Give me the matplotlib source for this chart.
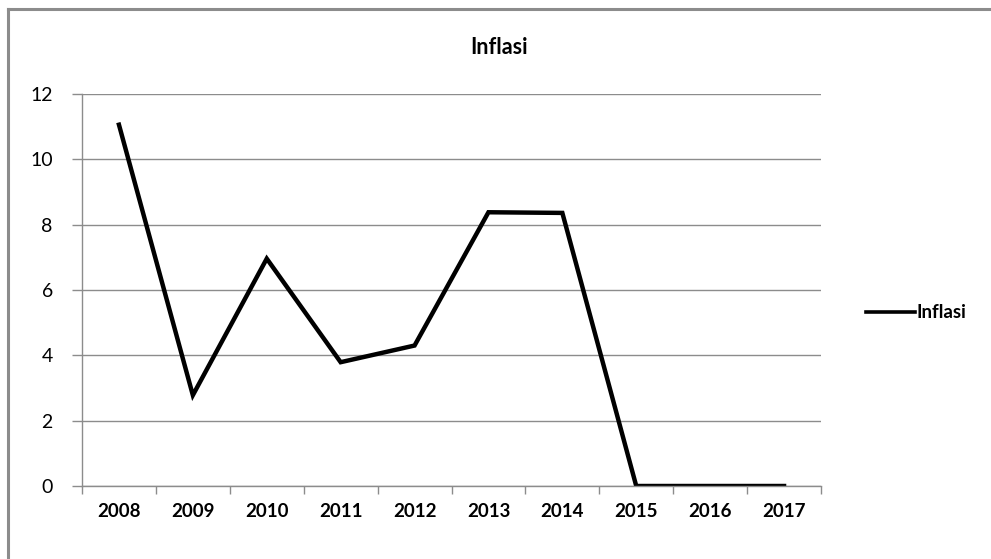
import matplotlib.pyplot as plt
from matplotlib.lines import Line2D

tahun = ["2008", "2009", "2010", "2011", "2012", "2013", "2014", "2015", "2016", "2017"]
inflasi = [11.06, 2.78, 6.96, 3.79, 4.30, 8.38, 8.36, 0, 0, 0]

plt.rcParams['font.family'] = ['Lato', 'DejaVu Sans']

W, H = 991, 559
fig = plt.figure(figsize=(W / 100, H / 100), dpi=100)

# gray frame around the chart area (top and left edges only show)
fy = 1 - 9 / H
fx = 8 / W
fig.add_artist(Line2D([fx, 1.05], [fy, fy], transform=fig.transFigure, color="#8c8c8c", linewidth=2.2))
fig.add_artist(Line2D([fx, fx], [-0.05, fy], transform=fig.transFigure, color="#8c8c8c", linewidth=2.2))

ax = fig.add_axes([82 / W, 1 - 486 / H, (821 - 82) / W, (486 - 94) / H])
x = list(range(len(tahun)))
ax.plot(x, inflasi, color="black", linewidth=3.2, label="Inflasi", solid_joinstyle="miter")

ax.set_xlim(-0.5, len(tahun) - 0.5)
ax.set_ylim(0, 12)
ax.set_yticks(range(0, 13, 2))
ax.set_xticks(x)
ax.set_xticklabels(tahun, fontsize=13.5, fontweight="bold")
ax.set_xticks([i - 0.5 for i in range(len(tahun) + 1)], minor=True)
ax.tick_params(axis="x", which="major", length=0, pad=12)
ax.tick_params(axis="x", which="minor", length=6, color="#8c8c8c", width=1)
ax.tick_params(axis="y", length=7, color="#8c8c8c", width=1, labelsize=14, pad=14)

ax.grid(axis="y", color="#8c8c8c", linewidth=1)
ax.set_axisbelow(True)
for s in ["top", "right"]:
    ax.spines[s].set_visible(False)
for s in ["left", "bottom"]:
    ax.spines[s].set_color("#8c8c8c")
    ax.spines[s].set_linewidth(1)

fig.text(499 / W, 1 - 47 / H, "Inflasi", ha="center", va="center", fontsize=15.5, fontweight="bold")

leg = ax.legend(loc="center left", bbox_to_anchor=(849 / W, 1 - 313 / H), bbox_transform=fig.transFigure,
                frameon=False, handlelength=2.6, handletextpad=0.1, prop={"size": 13.5, "weight": "bold"})
leg.get_lines()[0].set_linewidth(2.6)

fig.savefig("out.png", dpi=100)
